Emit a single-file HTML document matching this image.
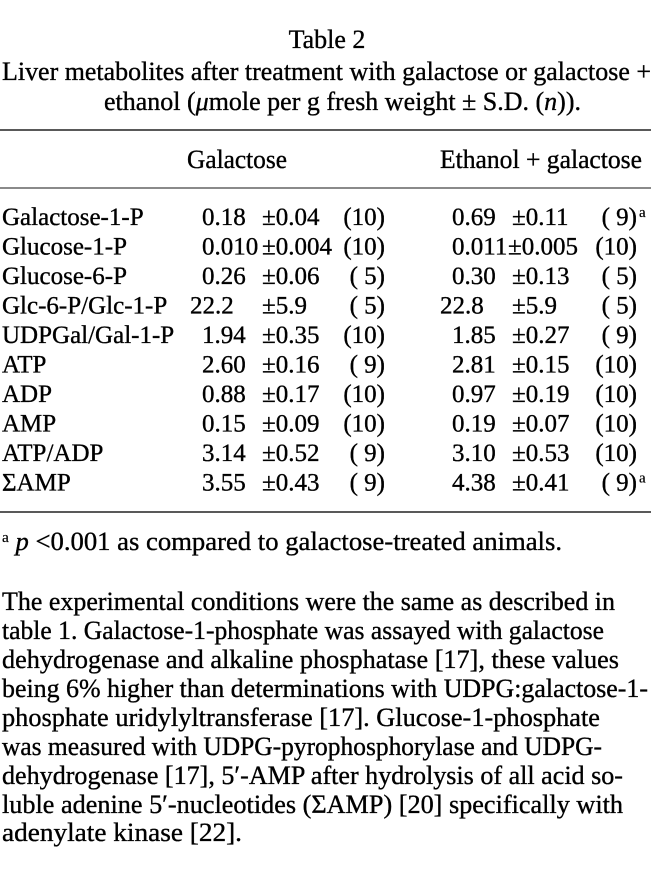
<!DOCTYPE html>
<html><head><meta charset="utf-8"><style>
html,body{margin:0;padding:0;background:#fff;width:654px;height:879px;overflow:hidden}
svg{display:block}
text{font-family:"Liberation Serif",serif;font-size:26px;fill:#000;stroke:#000;stroke-width:0.35}
#rows text{font-size:25px}
.sup, #rows .sup{font-size:15px;stroke-width:0.2}
</style></head><body>
<svg width="654" height="879" viewBox="0 0 654 879">
<text x="327" y="48" text-anchor="middle" font-size="25">Table 2</text>
<text x="2" y="80" textLength="649" lengthAdjust="spacingAndGlyphs">Liver metabolites after treatment with galactose or galactose +</text>
<text x="104" y="110" textLength="477" lengthAdjust="spacingAndGlyphs">ethanol (<tspan font-style="italic">μ</tspan>mole per g fresh weight ± S.D. (<tspan font-style="italic">n</tspan>)).</text>
<line x1="0" y1="130" x2="651" y2="130" stroke="#222" stroke-width="1.5"/>
<text x="187" y="168" textLength="100" lengthAdjust="spacingAndGlyphs">Galactose</text>
<text x="440" y="168" textLength="202" lengthAdjust="spacingAndGlyphs">Ethanol + galactose</text>
<line x1="0" y1="188" x2="651" y2="188" stroke="#444" stroke-width="1.2"/>
<g id="rows"></g>
<line x1="0" y1="512" x2="651" y2="512" stroke="#222" stroke-width="1.5"/>
<text x="2" y="550" textLength="560" lengthAdjust="spacingAndGlyphs"><tspan class="sup" dy="-8">a</tspan><tspan dy="8"> </tspan><tspan font-style="italic">p</tspan> &lt;0.001 as compared to galactose-treated animals.</text>
<g>
<text x="2" y="610" textLength="613" lengthAdjust="spacingAndGlyphs">The experimental conditions were the same as described in</text>
<text x="2" y="639" textLength="602" lengthAdjust="spacingAndGlyphs">table 1. Galactose-1-phosphate was assayed with galactose</text>
<text x="2" y="668" textLength="617" lengthAdjust="spacingAndGlyphs">dehydrogenase and alkaline phosphatase [17], these values</text>
<text x="2" y="697" textLength="646" lengthAdjust="spacingAndGlyphs">being 6% higher than determinations with UDPG:galactose-1-</text>
<text x="2" y="726" textLength="598" lengthAdjust="spacingAndGlyphs">phosphate uridylyltransferase [17]. Glucose-1-phosphate</text>
<text x="2" y="755" textLength="600" lengthAdjust="spacingAndGlyphs">was measured with UDPG-pyrophosphorylase and UDPG-</text>
<text x="2" y="784" textLength="621" lengthAdjust="spacingAndGlyphs">dehydrogenase [17], 5′-AMP after hydrolysis of all acid so-</text>
<text x="2" y="813" textLength="621" lengthAdjust="spacingAndGlyphs">luble adenine 5′-nucleotides (ΣAMP) [20] specifically with</text>
<text x="2" y="841" textLength="240" lengthAdjust="spacingAndGlyphs">adenylate kinase [22].</text>
</g>
</svg>
<script>
const labels=["Galactose-1-P","Glucose-1-P","Glucose-6-P","Glc-6-P/Glc-1-P","UDPGal/Gal-1-P","ATP","ADP","AMP","ATP/ADP","ΣAMP"];
const galMean=["0.18","0.010","0.26","22.2","1.94","2.60","0.88","0.15","3.14","3.55"];
const galSD=["±0.04","±0.004","±0.06","±5.9","±0.35","±0.16","±0.17","±0.09","±0.52","±0.43"];
const galN=["(10)","(10)","( 5)","( 5)","(10)","( 9)","(10)","(10)","( 9)","( 9)"];
const ethMean=["0.69","0.011","0.30","22.8","1.85","2.81","0.97","0.19","3.10","4.38"];
const ethSD=["±0.11","±0.005","±0.13","±5.9","±0.27","±0.15","±0.19","±0.07","±0.53","±0.41"];
const ethN=["( 9)","(10)","( 5)","( 5)","( 9)","(10)","(10)","(10)","(10)","( 9)"];
const ethSig=["a","","","","","","","","","a"];
const NS="http://www.w3.org/2000/svg";
const g=document.getElementById('rows');
function t(x,y,s,anchor){const e=document.createElementNS(NS,'text');e.setAttribute('x',x);e.setAttribute('y',y);e.setAttribute('xml:space','preserve');if(anchor)e.setAttribute('text-anchor',anchor);e.textContent=s;g.appendChild(e);return e;}
labels.forEach((l,i)=>{
  const y=225+i*29.5;
  const a=t(2,y,l);
  
  
  const b=t(galMean[i].startsWith('22')?190:202,y,galMean[i]);
  
  
  const c=t(262,y,galSD[i]);
  
  
  const d=t(385,y,galN[i],'end');
  
  
  const e=t(ethMean[i].startsWith('22')?440:452,y,ethMean[i]);
  
  
  const f=t(ethMean[i].length===5?508:512,y,ethSD[i]);
  
  
  const h=t(637,y,ethN[i],'end');
  
  
  if(ethSig[i]){const s=t(639,y-8,ethSig[i]);s.setAttribute('class','sup');
  
  }
});
</script>
</body></html>
